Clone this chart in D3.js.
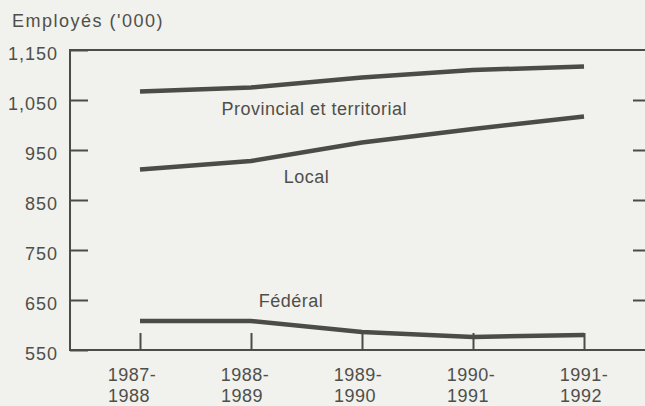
<!DOCTYPE html>
<html>
<head>
<meta charset="utf-8">
<script src="https://cdn.jsdelivr.net/npm/d3@7"></script>
<style>
body { margin: 0; background: #f1f1ed; }
svg { display: block; font-family: "Liberation Sans", Arial, sans-serif; }
</style>
</head>
<body>
<script>
//chart data
var years = ["1987-1988", "1988-1989", "1989-1990", "1990-1991", "1991-1992"];
var provincial = [1067, 1075, 1095, 1110, 1117];
var local = [911, 928, 965, 992, 1017];
var federal = [608, 608, 586, 576, 580];
var yTicks = [550, 650, 750, 850, 950, 1050, 1150];
var seriesNames = ["Provincial et territorial", "Local", "Fédéral"];
var yTitle = "Employés ('000)";

var width = 645, height = 406;
var plot = {left: 70, right: 646, top: 50, bottom: 350};
var ink = "#4b4b47", textInk = "#4f4f4a";

//x position of each year, y position of employees
var xScale = d3.scaleLinear( )
               .domain([0, years.length - 1])
               .range([140, 584]);

var labelScale = d3.scaleLinear( )
                   .domain([0, years.length - 1])
                   .range([129, 581]);

var yScale = d3.scaleLinear( )
               .domain([550, 1150])
               .range([plot.bottom, plot.top]);

var _svg = d3.select("body")
             .append("svg")
             .attr("width", width)
             .attr("height", height);

//frame of the plot (right side falls just outside the picture)
_svg.append("rect")
    .attr("x", plot.left)
    .attr("y", plot.top)
    .attr("width", plot.right - plot.left)
    .attr("height", plot.bottom - plot.top)
    .attr("fill", "none")
    .attr("stroke", ink)
    .attr("stroke-width", 2);

//left axis, ticks pointing inwards
var yAxis = d3.axisLeft(yScale)
              .tickValues(yTicks)
              .tickSize(-18)
              .tickPadding(12)
              .tickFormat(d3.format(","));

var gy = _svg.append("g")
             .attr("transform", "translate(" + plot.left + ",0)")
             .call(yAxis);
gy.select(".domain").remove( );
gy.selectAll("line").attr("stroke", ink).attr("stroke-width", 2);
gy.selectAll("text")
  .attr("fill", textInk)
  .attr("font-size", 18)
  .attr("letter-spacing", 1)
  .attr("dy", "0.5em");

//right axis ticks only
var yAxisRight = d3.axisRight(yScale)
                   .tickValues(yTicks.slice(1, -1))
                   .tickSize(-13)
                   .tickFormat("");

var gr = _svg.append("g")
             .attr("transform", "translate(" + plot.right + ",0)")
             .call(yAxisRight);
gr.select(".domain").remove( );
gr.selectAll("line").attr("stroke", ink).attr("stroke-width", 2);

//bottom ticks pointing up
var xAxis = d3.axisBottom(xScale)
              .tickValues(d3.range(years.length))
              .tickSize(-17)
              .tickFormat("");

var gx = _svg.append("g")
             .attr("transform", "translate(0," + plot.bottom + ")")
             .call(xAxis);
gx.select(".domain").remove( );
gx.selectAll("line").attr("stroke", ink).attr("stroke-width", 2);

//year labels on two lines
var yl = _svg.append("g")
             .selectAll("text")
             .data(years)
             .enter( )
             .append("text")
             .attr("x", function(d, i){ return labelScale(i); })
             .attr("y", 381)
             .attr("text-anchor", "middle")
             .attr("fill", textInk)
             .attr("font-size", 18)
             .attr("letter-spacing", 0.5);

yl.append("tspan")
  .attr("x", function(d, i){ return labelScale(i) + 3; })
  .text(function(d){ return d.split("-")[0] + "-"; });

yl.append("tspan")
  .attr("x", function(d, i){ return labelScale(i); })
  .attr("dy", 21)
  .text(function(d){ return d.split("-")[1]; });

//axis title
_svg.append("text")
    .attr("x", 12)
    .attr("y", 27)
    .attr("fill", textInk)
    .attr("font-size", 18)
    .attr("letter-spacing", 1.5)
    .text(yTitle);

//series lines
var line = d3.line( )
             .x(function(d, i){ return xScale(i); })
             .y(function(d){ return yScale(d); });

_svg.append("g")
    .selectAll("path")
    .data([provincial, local, federal])
    .enter( )
    .append("path")
    .attr("d", line)
    .attr("fill", "none")
    .attr("stroke", ink)
    .attr("stroke-width", 4.5)
    .attr("stroke-linejoin", "round");

//series names, placed in data space
var namePos = [[1.57, 1020], [1.5, 884], [1.36, 636]];

_svg.append("g")
    .selectAll("text")
    .data(seriesNames)
    .enter( )
    .append("text")
    .attr("x", function(d, i){ return xScale(namePos[i][0]); })
    .attr("y", function(d, i){ return yScale(namePos[i][1]); })
    .attr("text-anchor", "middle")
    .attr("fill", textInk)
    .attr("font-size", 18)
    .attr("letter-spacing", 0.5)
    .text(function(d){ return d; });
</script>
</body>
</html>
